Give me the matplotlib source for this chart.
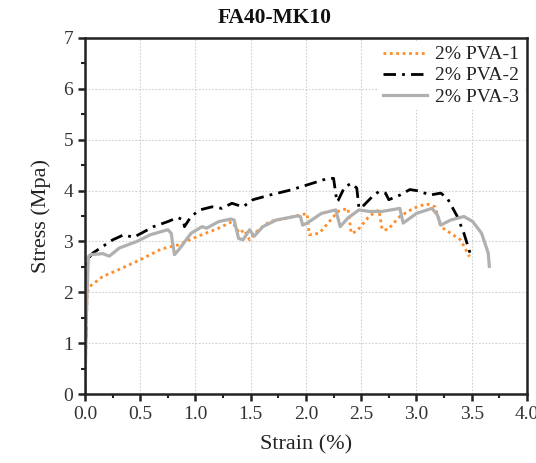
import numpy as np
import matplotlib
matplotlib.use("Agg")
import matplotlib.pyplot as plt
from matplotlib.ticker import MultipleLocator

plt.rcParams['font.family'] = ['Liberation Serif', 'DejaVu Serif']

# 2% PVA-1 (orange dotted)
strain_1 = [0.0, 0.01, 0.02, 0.04, 0.16, 0.31, 0.50, 0.69, 0.84, 1.02, 1.21, 1.33, 1.36, 1.40,
            1.44, 1.49, 1.55, 1.67, 1.83, 1.95, 2.01, 2.03, 2.12, 2.20, 2.29, 2.38, 2.41,
            2.46, 2.57, 2.66, 2.69, 2.74, 2.85, 2.97, 3.09, 3.17, 3.22, 3.31, 3.40, 3.48]
stress_1 = [0.0, 1.2, 2.0, 2.11, 2.31, 2.45, 2.64, 2.85, 2.93, 3.10, 3.26, 3.39, 3.29, 3.16,
            3.23, 3.03, 3.19, 3.39, 3.46, 3.52, 3.55, 3.13, 3.16, 3.36, 3.59, 3.65, 3.16,
            3.20, 3.49, 3.62, 3.23, 3.23, 3.49, 3.65, 3.74, 3.68, 3.29, 3.16, 3.03, 2.70]

# 2% PVA-2 (black dash-dot)
strain_2 = [0.0, 0.01, 0.02, 0.07, 0.25, 0.35, 0.44, 0.62, 0.75, 0.84, 0.89, 0.90, 0.96, 1.04,
            1.15, 1.24, 1.33, 1.43, 1.52, 1.67, 1.86, 2.01, 2.20, 2.25, 2.28, 2.29, 2.35,
            2.41, 2.46, 2.48, 2.51, 2.60, 2.66, 2.72, 2.75, 2.85, 2.94, 3.03, 3.12, 3.22,
            3.28, 3.37, 3.43, 3.49]
stress_2 = [0.0, 1.5, 2.64, 2.77, 3.03, 3.13, 3.08, 3.29, 3.39, 3.47, 3.42, 3.29, 3.49, 3.62,
            3.68, 3.65, 3.75, 3.68, 3.82, 3.91, 4.01, 4.11, 4.24, 4.24, 3.78, 3.80, 4.07,
            4.14, 4.05, 3.65, 3.68, 3.88, 3.98, 3.95, 3.82, 3.91, 4.02, 3.99, 3.91, 3.95,
            3.85, 3.49, 3.16, 2.74]

# 2% PVA-3 (grey solid)
strain_3 = [0.0, 0.01, 0.03, 0.05, 0.16, 0.22, 0.31, 0.47, 0.59, 0.75, 0.78, 0.81, 0.85, 0.96,
            1.06, 1.10, 1.21, 1.32, 1.35, 1.39, 1.43, 1.49, 1.53, 1.61, 1.73, 1.92, 1.95,
            1.97, 2.01, 2.14, 2.27, 2.31, 2.38, 2.48, 2.57, 2.69, 2.85, 2.88, 3.00, 3.14,
            3.19, 3.22, 3.31, 3.43, 3.51, 3.59, 3.65, 3.66]
stress_3 = [0.0, 1.4, 2.70, 2.74, 2.76, 2.71, 2.87, 3.00, 3.13, 3.23, 3.16, 2.74, 2.84, 3.16,
            3.29, 3.26, 3.39, 3.44, 3.42, 3.06, 3.03, 3.23, 3.10, 3.29, 3.42, 3.50, 3.49,
            3.32, 3.36, 3.55, 3.62, 3.29, 3.46, 3.62, 3.59, 3.59, 3.65, 3.36, 3.55, 3.65,
            3.52, 3.32, 3.42, 3.49, 3.39, 3.16, 2.77, 2.51]

labels = ['2% PVA-1', '2% PVA-2', '2% PVA-3']

fig = plt.figure(figsize=(5.36, 4.63), dpi=100)
ax = fig.add_axes([0.1586, 0.149, 0.8244, 0.769])

ax.plot(strain_1, stress_1, color='#ff8c26', linestyle=(0, (1, 1.3)), linewidth=2.0, label=labels[0])
ax.plot(strain_2, stress_2, color='black', linestyle=(0, (4.5, 2.2, 1, 2.2)), linewidth=2.0, label=labels[1])
ax.plot(strain_3, stress_3, color='#b0b0b0', linestyle='-', linewidth=2.3, label=labels[2])

ax.set_xlim(0, 4.0)
ax.set_ylim(0, 7)
ax.xaxis.set_major_locator(MultipleLocator(0.5))
ax.xaxis.set_minor_locator(MultipleLocator(0.25))
ax.yaxis.set_major_locator(MultipleLocator(1))
ax.yaxis.set_minor_locator(MultipleLocator(0.5))
ax.xaxis.set_major_formatter(matplotlib.ticker.FormatStrFormatter('%.1f'))

ax.grid(True, which='major', color='#d0d0d0', linestyle=(0, (1.5, 1.5)), linewidth=0.8)
ax.set_axisbelow(True)

for s in ax.spines.values():
    s.set_linewidth(1.8)
    s.set_color('#222222')
ax.tick_params(which='major', direction='out', length=5, width=1.8,
               labelsize=14, labelcolor='#333333', color='#222222')
ax.tick_params(which='minor', direction='out', length=3, width=1.5, color='#222222')
ax.tick_params(top=False, right=False)

ax.set_xlabel('Strain (%)', fontsize=16, color='#222222', labelpad=9)
ax.set_ylabel('Stress (Mpa)', fontsize=16, color='#222222', labelpad=9)

fig.text(0.513, 0.962, 'FA40-MK10', ha='center', va='center',
         fontsize=15.5, fontweight='bold', color='#111111')

leg = ax.legend(loc='upper right', fontsize=14, frameon=True, fancybox=False,
                framealpha=1, edgecolor='none', facecolor='white',
                handlelength=2.3, labelspacing=0.18, borderpad=0.25,
                handletextpad=0.4, borderaxespad=0.15)
for t in leg.get_texts():
    t.set_color('#222222')

fig.savefig('out.png', dpi=100)
